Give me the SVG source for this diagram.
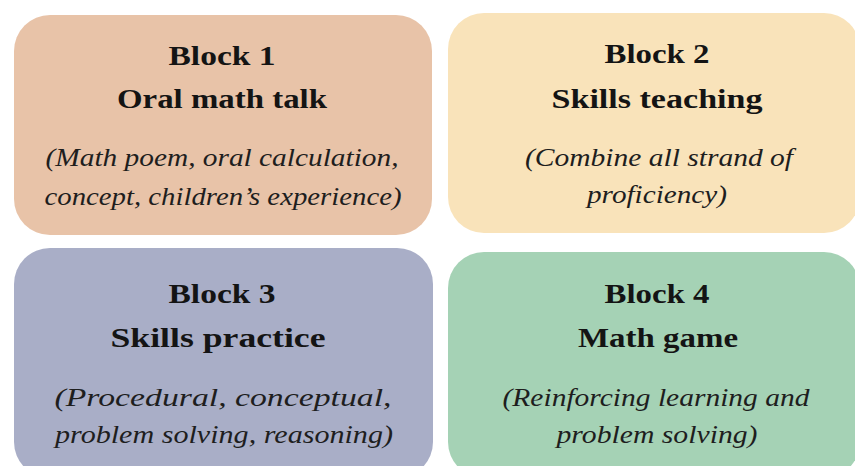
<svg xmlns="http://www.w3.org/2000/svg" width="855" height="466" viewBox="0 0 855 466">
<style>
.box{stroke:none}
.t{font-family:"Liberation Serif","Times New Roman",serif;font-weight:bold;font-size:28px;fill:#141414;text-anchor:middle}
.s{font-family:"Liberation Serif","Times New Roman",serif;font-style:italic;font-size:25.5px;fill:#1e1e1e;text-anchor:middle}
</style>
<rect width="855" height="466" fill="#ffffff"/>
<g id="block1">
<rect class="box" x="14" y="15" width="418" height="220" rx="36" fill="#E8C3A8"/>
<text class="t" x="222" y="65" textLength="107" lengthAdjust="spacingAndGlyphs">Block 1</text>
<text class="t" x="222" y="108" textLength="210" lengthAdjust="spacingAndGlyphs">Oral math talk</text>
<text class="s" x="222" y="166" textLength="353" lengthAdjust="spacingAndGlyphs">(Math poem, oral calculation,</text>
<text class="s" x="223" y="205" textLength="357" lengthAdjust="spacingAndGlyphs">concept, children’s experience)</text>
</g>
<g id="block2">
<rect class="box" x="448" y="13" width="412" height="220" rx="36" fill="#F9E3BA"/>
<text class="t" x="657" y="63" textLength="105" lengthAdjust="spacingAndGlyphs">Block 2</text>
<text class="t" x="657" y="108" textLength="211" lengthAdjust="spacingAndGlyphs">Skills teaching</text>
<text class="s" x="659" y="166" textLength="268" lengthAdjust="spacingAndGlyphs">(Combine all strand of</text>
<text class="s" x="657" y="203" textLength="140" lengthAdjust="spacingAndGlyphs">proficiency)</text>
</g>
<g id="block3">
<rect class="box" x="14" y="248" width="419" height="230" rx="36" fill="#A9AEC7"/>
<text class="t" x="222" y="303" textLength="107" lengthAdjust="spacingAndGlyphs">Block 3</text>
<text class="t" x="218" y="347" textLength="215" lengthAdjust="spacingAndGlyphs">Skills practice</text>
<text class="s" x="223" y="406" textLength="337" lengthAdjust="spacingAndGlyphs">(Procedural, conceptual,</text>
<text class="s" x="224" y="443" textLength="338" lengthAdjust="spacingAndGlyphs">problem solving, reasoning)</text>
</g>
<g id="block4">
<rect class="box" x="448" y="252" width="412" height="226" rx="36" fill="#A5D2B5"/>
<text class="t" x="657" y="303" textLength="105" lengthAdjust="spacingAndGlyphs">Block 4</text>
<text class="t" x="658" y="347" textLength="160" lengthAdjust="spacingAndGlyphs">Math game</text>
<text class="s" x="656" y="406" textLength="307" lengthAdjust="spacingAndGlyphs">(Reinforcing learning and</text>
<text class="s" x="657" y="443" textLength="201" lengthAdjust="spacingAndGlyphs">problem solving)</text>
</g>
<g id="connectors"></g>
</svg>
